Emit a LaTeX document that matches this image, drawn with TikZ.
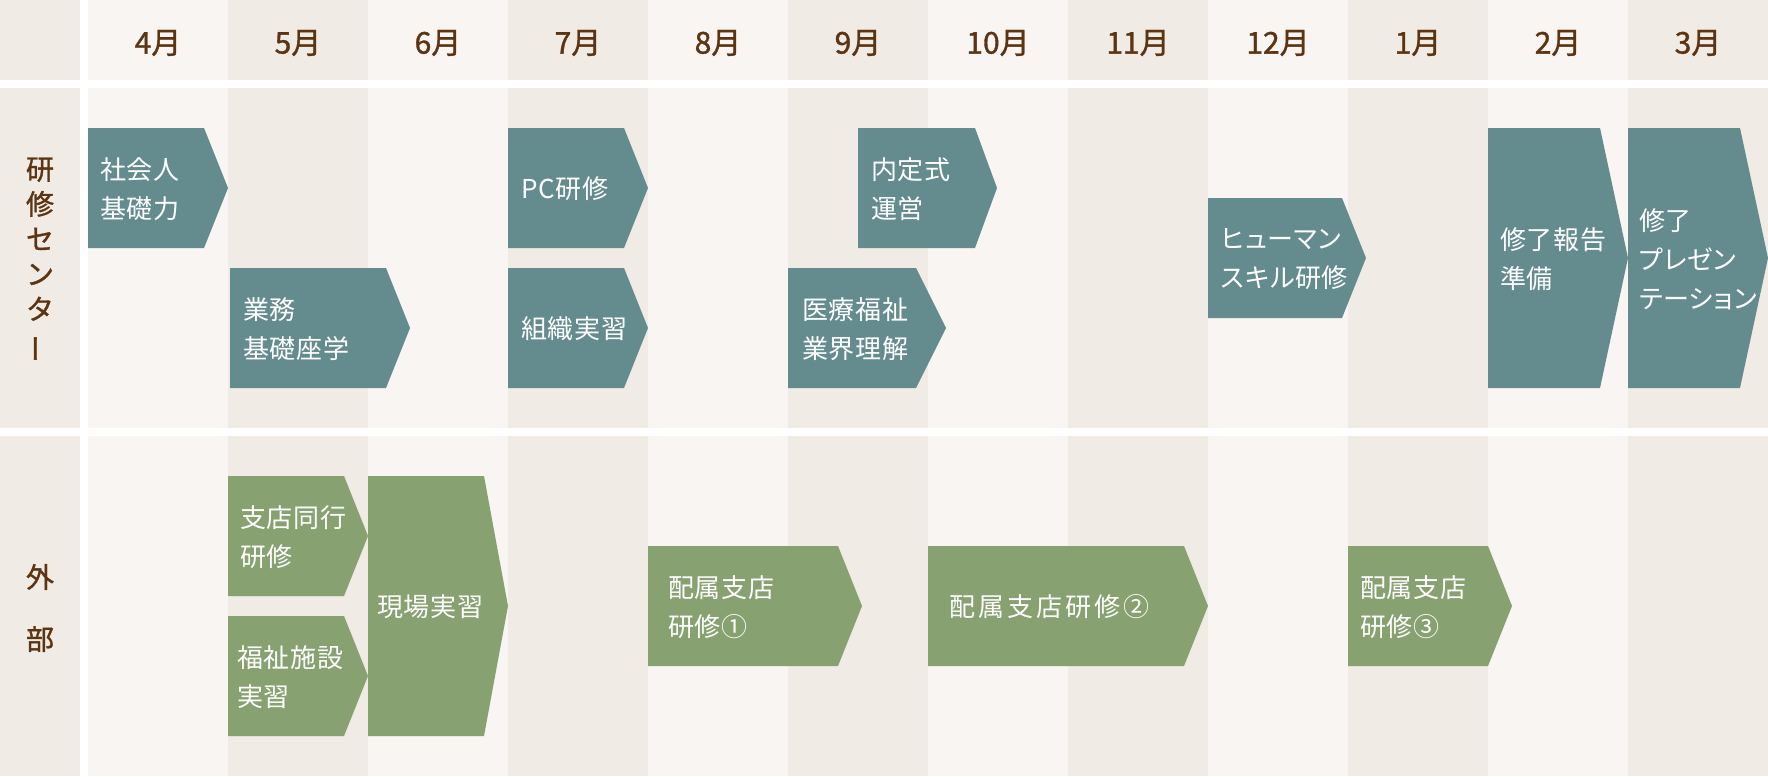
\documentclass[tikz,border=0pt]{standalone}
\usepackage{fontspec}
\setmainfont{Noto Sans CJK JP}[RawFeature=+palt,LetterSpace=2.5]
\newfontfamily\headfont{Noto Sans CJK JP}[FakeBold=1.2]
\definecolor{tealcolor}{RGB}{100,140,143}
\definecolor{greencolor}{RGB}{135,161,113}
\definecolor{lightcolor}{RGB}{248,245,242}
\definecolor{darkcolor}{RGB}{240,235,229}
\definecolor{monthcolor}{RGB}{92,52,18}

\begin{document}
\begin{tikzpicture}[x=1pt,y=-1pt,
    boxtext/.style={anchor=west,inner sep=0pt,align=left,text=white,
        font=\fontsize{26}{39}\selectfont},
    headtext/.style={inner sep=0pt,text=monthcolor,
        font=\headfont\fontsize{30}{30}\selectfont},
    sidetext/.style={inner sep=0pt,align=center,text=monthcolor,
        font=\headfont\fontsize{28}{35}\selectfont}]

    \useasboundingbox (0,0) rectangle (1768,776);
    \fill[white] (0,0) rectangle (1768,776);

    % Draw label column and month columns
    \foreach \ya/\yb in {0/80,88/428,436/776} {
        \fill[darkcolor] (0,\ya) rectangle (80,\yb);
        \foreach \i in {0,2,...,10}
            \fill[lightcolor] ({88+140*\i},\ya) rectangle ({228+140*\i},\yb);
        \foreach \i in {1,3,...,11}
            \fill[darkcolor] ({88+140*\i},\ya) rectangle ({228+140*\i},\yb);
    }

    % Month labels
    \foreach \m [count=\i from 0] in {4,5,6,7,8,9,10,11,12,1,2,3}
        \node[headtext] (m\m) at ({158+140*\i},43) {\m 月};

    % Row labels
    \node[sidetext] (center) at (40,260) {研\\修\\セ\\ン\\タ\\\rotatebox[origin=c]{90}{ー}};
    \node[sidetext,font=\headfont\fontsize{28}{62}\selectfont] (outside) at (40,608) {外\\部};

    % Draw training centre steps
    \foreach \xa/\ya/\xf/\xt/\yb in {88/128/204/228/248, 230/268/386/410/388,
        508/128/624/648/248, 508/268/624/648/388, 858/128/975/997/248,
        788/268/916/946/388, 1208/198/1342/1366/318, 1488/128/1600/1628/388,
        1628/128/1740/1768/388}
        \fill[tealcolor] (\xa,\ya) -- (\xf,\ya) -- (\xt,{(\ya+\yb)/2})
            -- (\xf,\yb) -- (\xa,\yb) -- cycle;

    % Draw outside steps
    \foreach \xa/\ya/\xf/\xt/\yb in {228/476/344/368/596, 228/616/344/368/736,
        368/476/484/508/736, 648/546/838/862/666, 928/546/1184/1208/666,
        1348/546/1488/1512/666}
        \fill[greencolor] (\xa,\ya) -- (\xf,\ya) -- (\xt,{(\ya+\yb)/2})
            -- (\xf,\yb) -- (\xa,\yb) -- cycle;

    % Step labels
    \node[boxtext] (shakai) at (100,189) {社会人\\基礎力};
    \node[boxtext] (gyomu) at (243,329) {業務\\基礎座学};
    \node[boxtext] (pc) at (521,189) {PC研修};
    \node[boxtext] (soshiki) at (521,329) {組織実習};
    \node[boxtext] (naitei) at (871,189) {内定式\\運営};
    \node[boxtext] (iryo) at (802,329) {医療福祉\\業界理解};
    \node[boxtext] (human) at (1221,259) {ヒューマン\\スキル研修};
    \node[boxtext] (shuryo) at (1500,259) {修了報告\\準備};
    \node[boxtext] (presen) at (1639,259) {修了\\プレゼン\\テーション};
    \node[boxtext] (doko) at (240,537) {支店同行\\研修};
    \node[boxtext] (shisetsu) at (237,677) {福祉施設\\実習};
    \node[boxtext] (genba) at (377,607) {現場実習};
    \node[boxtext] (haizoku1) at (668,607) {配属支店\\研修①};
    \node[boxtext,font=\fontsize{26}{39}\selectfont\addfontfeature{LetterSpace=12}]
        (haizoku2) at (949,607) {配属支店研修②};
    \node[boxtext] (haizoku3) at (1360,607) {配属支店\\研修③};
\end{tikzpicture}
\end{document}
